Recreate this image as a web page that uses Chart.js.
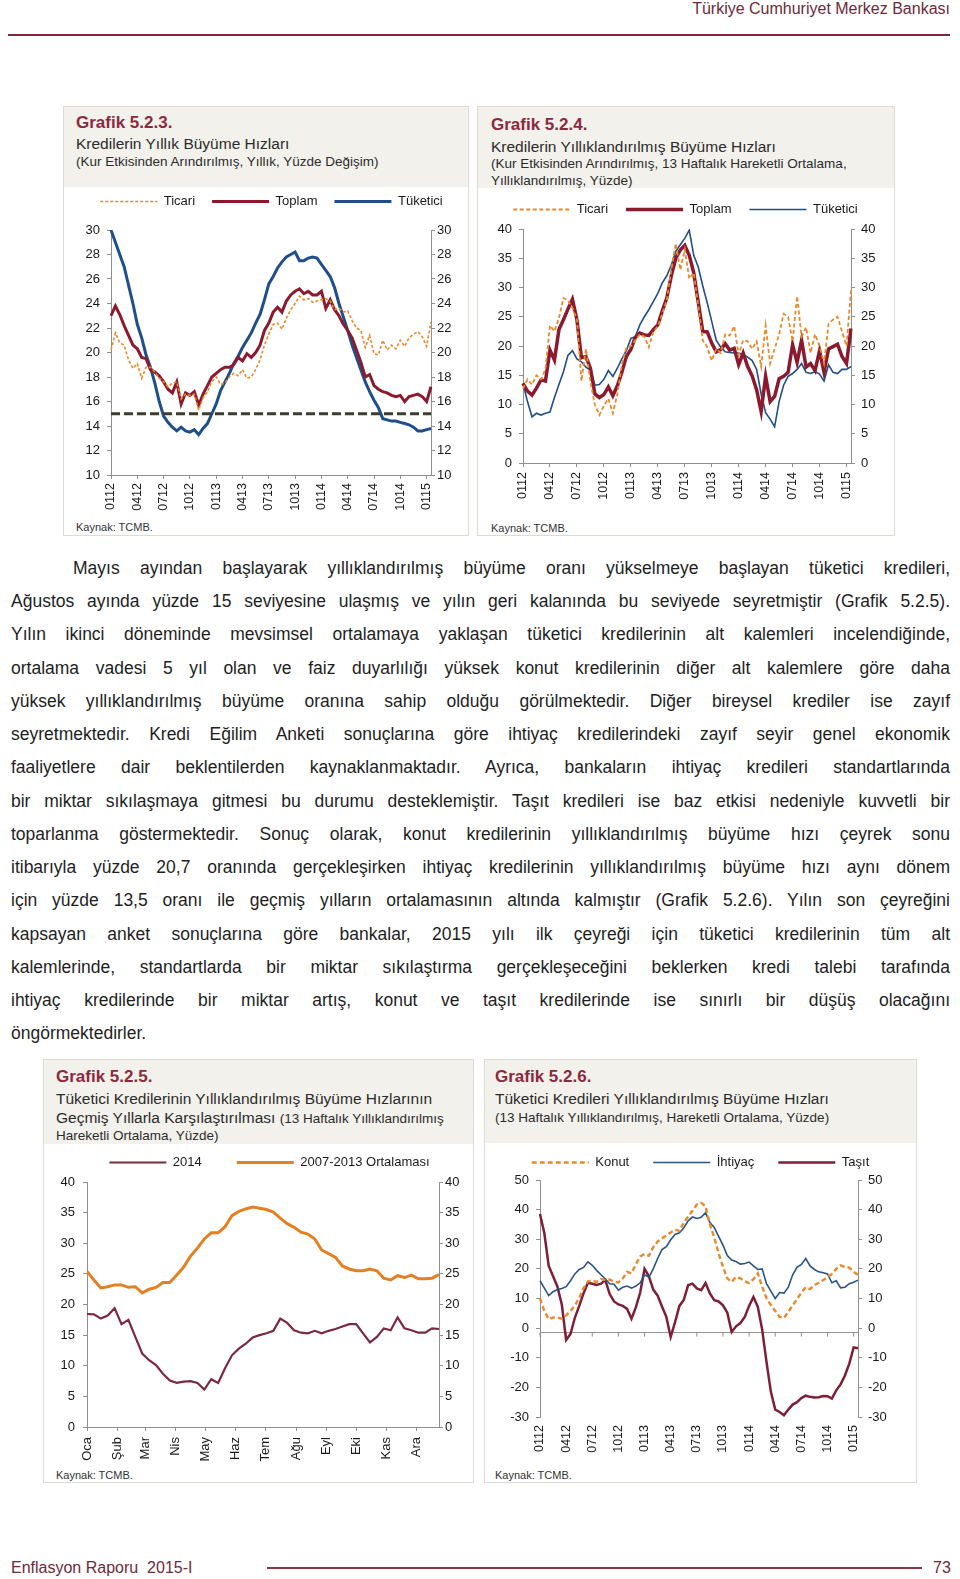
<!DOCTYPE html>
<html lang="tr">
<head>
<meta charset="utf-8">
<title>Enflasyon Raporu 2015-I</title>
<script src="https://cdn.jsdelivr.net/npm/chart.js@4.4.1/dist/chart.umd.min.js"></script>
<style>
  html, body { margin: 0; padding: 0; background: #fff; }
  body { position: relative; width: 960px; height: 1579px; overflow: hidden;
         font-family: "Liberation Sans", Arial, sans-serif; color: #1e1e1e; }
  .abs { position: absolute; white-space: nowrap; }
  .panel { position: absolute; box-sizing: border-box; border: 1px solid #dedbd5; }
  .phead { position: absolute; left: 0; top: 0; right: 0; background: #f3f1ec; }
  .gt { font-size: 17px; line-height: 17px; font-weight: bold; color: #8b2a3e; }
  .tt { font-size: 15.5px; line-height: 16px; color: #2b2b2b; }
  .st { font-size: 13.5px; line-height: 14px; color: #2b2b2b; }
  .src { font-size: 11px; line-height: 11px; color: #333; }
  .maroon { color: #6e2a3a; font-size: 16px; line-height: 18px; }
  canvas { position: absolute; }
  #txt { position: absolute; left: 11px; top: 552px; width: 939px; font-size: 17.5px; line-height: 33.24px; color: #1e1e1e; }
  #txt div { text-align: justify; text-align-last: justify; height: 33.24px; }
  #txt div.first { text-indent: 62px; }
  #txt div.last { text-align-last: left; }
</style>
</head>
<body>
<div class="abs maroon" style="right:10px;top:0;">Türkiye Cumhuriyet Merkez Bankası</div>
<div class="abs" style="left:8px;top:34px;width:942px;height:2px;background:#7a2a3c;"></div>

<!-- Grafik 5.2.3 -->
<div class="panel" style="left:63px;top:106px;width:406px;height:430px;"><div class="phead" style="height:80px;"></div></div>
<div class="abs gt" style="left:76px;top:114px;">Grafik 5.2.3.</div>
<div class="abs tt" style="left:76px;top:136px;">Kredilerin Yıllık Büyüme Hızları</div>
<div class="abs st" style="left:76px;top:155px;">(Kur Etkisinden Arındırılmış, Yıllık, Yüzde Değişim)</div>
<div class="abs src" style="left:76px;top:522px;">Kaynak: TCMB.</div>

<!-- Grafik 5.2.4 -->
<div class="panel" style="left:477px;top:106px;width:418px;height:430px;"><div class="phead" style="height:81px;"></div></div>
<div class="abs gt" style="left:491px;top:116px;">Grafik 5.2.4.</div>
<div class="abs tt" style="left:491px;top:139px;">Kredilerin Yıllıklandırılmış Büyüme Hızları</div>
<div class="abs st" style="left:491px;top:157px;">(Kur Etkisinden Arındırılmış, 13 Haftalık Hareketli Ortalama,</div>
<div class="abs st" style="left:491px;top:174px;">Yıllıklandırılmış, Yüzde)</div>
<div class="abs src" style="left:491px;top:523px;">Kaynak: TCMB.</div>

<canvas id="c1" width="405" height="337" style="left:63px;top:178px;"></canvas>
<canvas id="c2" width="419" height="318" style="left:476px;top:185px;"></canvas>

<div id="txt">
  <div class="first">Mayıs ayından başlayarak yıllıklandırılmış büyüme oranı yükselmeye başlayan tüketici kredileri,</div>
  <div>Ağustos ayında yüzde 15 seviyesine ulaşmış ve yılın geri kalanında bu seviyede seyretmiştir (Grafik 5.2.5).</div>
  <div>Yılın ikinci döneminde mevsimsel ortalamaya yaklaşan tüketici kredilerinin alt kalemleri incelendiğinde,</div>
  <div>ortalama vadesi 5 yıl olan ve faiz duyarlılığı yüksek konut kredilerinin diğer alt kalemlere göre daha</div>
  <div>yüksek yıllıklandırılmış büyüme oranına sahip olduğu görülmektedir. Diğer bireysel krediler ise zayıf</div>
  <div>seyretmektedir. Kredi Eğilim Anketi sonuçlarına göre ihtiyaç kredilerindeki zayıf seyir genel ekonomik</div>
  <div>faaliyetlere dair beklentilerden kaynaklanmaktadır. Ayrıca, bankaların ihtiyaç kredileri standartlarında</div>
  <div>bir miktar sıkılaşmaya gitmesi bu durumu desteklemiştir. Taşıt kredileri ise baz etkisi nedeniyle kuvvetli bir</div>
  <div>toparlanma göstermektedir. Sonuç olarak, konut kredilerinin yıllıklandırılmış büyüme hızı çeyrek sonu</div>
  <div>itibarıyla yüzde 20,7 oranında gerçekleşirken ihtiyaç kredilerinin yıllıklandırılmış büyüme hızı aynı dönem</div>
  <div>için yüzde 13,5 oranı ile geçmiş yılların ortalamasının altında kalmıştır (Grafik 5.2.6). Yılın son çeyreğini</div>
  <div>kapsayan anket sonuçlarına göre bankalar, 2015 yılı ilk çeyreği için tüketici kredilerinin tüm alt</div>
  <div>kalemlerinde, standartlarda bir miktar sıkılaştırma gerçekleşeceğini beklerken kredi talebi tarafında</div>
  <div>ihtiyaç kredilerinde bir miktar artış, konut ve taşıt kredilerinde ise sınırlı bir düşüş olacağını</div>
  <div class="last">öngörmektedirler.</div>
</div>

<!-- Grafik 5.2.5 -->
<div class="panel" style="left:43px;top:1059px;width:431px;height:424px;"><div class="phead" style="height:84px;"></div></div>
<div class="abs gt" style="left:56px;top:1068px;">Grafik 5.2.5.</div>
<div class="abs tt" style="left:56px;top:1091px;">Tüketici Kredilerinin Yıllıklandırılmış Büyüme Hızlarının</div>
<div class="abs tt" style="left:56px;top:1110px;">Geçmiş Yıllarla Karşılaştırılması <span class="st">(13 Haftalık Yıllıklandırılmış</span></div>
<div class="abs st" style="left:56px;top:1129px;">Hareketli Ortalama, Yüzde)</div>
<div class="abs src" style="left:56px;top:1470px;">Kaynak: TCMB.</div>

<!-- Grafik 5.2.6 -->
<div class="panel" style="left:484px;top:1059px;width:433px;height:424px;"><div class="phead" style="height:83px;"></div></div>
<div class="abs gt" style="left:495px;top:1068px;">Grafik 5.2.6.</div>
<div class="abs tt" style="left:495px;top:1091px;">Tüketici Kredileri Yıllıklandırılmış Büyüme Hızları</div>
<div class="abs st" style="left:495px;top:1111px;">(13 Haftalık Yıllıklandırılmış, Hareketli Ortalama, Yüzde)</div>
<div class="abs src" style="left:495px;top:1470px;">Kaynak: TCMB.</div>

<canvas id="c3" width="453" height="344" style="left:43px;top:1121px;"></canvas>
<canvas id="c4" width="433" height="325" style="left:484px;top:1132px;"></canvas>

<div class="abs maroon" style="left:11px;top:1559px;">Enflasyon Raporu&nbsp; 2015-I</div>
<div class="abs" style="left:267px;top:1567px;width:655px;height:2px;background:#8a3446;"></div>
<div class="abs maroon" style="left:933px;top:1559px;">73</div>

<script>
// veriler: yarım aylık gözlemler, 01/2012 - 01/2015
const months = ['0112','0212','0312','0412','0512','0612','0712','0812','0912','1012','1112','1212',
                '0113','0213','0313','0413','0513','0613','0713','0813','0913','1013','1113','1213',
                '0114','0214','0314','0414','0514','0614','0714','0814','0914','1014','1114','1214','0115'];
const tickMonths = ['0112','0412','0712','1012','0113','0413','0713','1013','0114','0414','0714','1014','0115'];

// Grafik 5.2.3
const ticari1 = [20.2, 21.6, 20.8, 20.6, 19.4, 18.7, 19.1, 17.9, 18.8, 18.8,
                 18.4, 17.9, 17.6, 17.2, 17.5, 17.6, 16.2, 16.6, 16.5, 16.6,
                 15.3, 16.3, 16.8, 17.6, 18.0, 17.4, 17.5, 18.0, 18.3, 18.1,
                 18.6, 17.9, 18.0, 18.6, 19.4, 20.6, 21.5, 22.3, 22.4, 21.9,
                 22.8, 23.5, 24.0, 24.6, 24.3, 24.4, 24.1, 24.2, 24.3, 24.4,
                 24.2, 23.5, 23.6, 23.3, 23.4, 22.6, 22.0, 21.8, 20.4, 21.4,
                 19.9, 19.8, 21.0, 20.2, 20.6, 20.3, 21.0, 20.5, 21.2, 21.5,
                 21.7, 21.3, 20.5, 22.5];
const toplam1 = [23.0, 23.8, 23.1, 22.2, 21.4, 20.6, 20.3, 19.6, 19.5, 18.6,
                 18.4, 18.1, 17.6, 17.0, 16.7, 17.6, 15.8, 16.7, 16.5, 16.8,
                 15.7, 16.6, 17.3, 18.0, 18.3, 18.6, 18.8, 18.8, 19.0, 19.6,
                 19.3, 19.9, 19.6, 20.0, 20.6, 21.8, 22.4, 23.3, 23.7, 23.3,
                 24.2, 24.7, 25.0, 25.2, 24.8, 25.0, 24.7, 24.7, 25.0, 23.6,
                 24.3, 23.5, 23.0, 22.3, 21.8, 21.2, 20.2, 19.2, 18.0, 18.2,
                 17.3, 17.0, 16.8, 16.7, 16.5, 16.4, 16.5, 16.0, 16.4, 16.5,
                 16.6, 16.4, 16.0, 17.2];
const tuketici1 = [30.0, 29.0, 28.0, 27.0, 25.5, 24.0, 22.3, 21.2, 19.8, 18.8,
                   17.5, 16.0, 14.8, 14.3, 13.9, 13.6, 13.9, 13.6, 13.5, 13.7,
                   13.3, 13.8, 14.2, 15.0, 15.8, 16.9, 17.6, 18.3, 19.1, 19.7,
                   20.4, 21.0, 21.6, 22.4, 23.1, 24.3, 25.6, 26.2, 26.9, 27.4,
                   27.8, 28.0, 28.2, 27.5, 27.5, 27.7, 27.8, 27.7, 27.2, 26.7,
                   26.2, 25.3, 24.0, 22.9, 21.8, 20.6, 19.6, 18.6, 17.6, 16.8,
                   16.1, 15.5, 14.6, 14.5, 14.4, 14.4, 14.3, 14.2, 14.1, 13.9,
                   13.6, 13.6, 13.7, 13.8];
const threshold = 15;

// Grafik 5.2.4
const ticari2 = [12.7, 14.3, 13.4, 15.0, 14.3, 16.0, 23.5, 22.5, 24.8, 28.2,
                 27.8, 26.5, 24.6, 14.0, 19.5, 13.8, 10.0, 8.2, 9.8, 11.0,
                 8.5, 11.8, 16.8, 19.7, 20.0, 21.0, 22.0, 21.6, 19.8, 22.4,
                 23.4, 25.5, 27.8, 33.0, 37.5, 33.0, 36.5, 31.5, 32.5, 27.0,
                 21.0, 19.8, 17.5, 19.5, 18.8, 22.0, 21.8, 23.4, 18.5, 21.0,
                 20.8, 19.5, 20.8, 16.5, 23.5, 17.0, 19.5, 22.0, 25.5, 25.0,
                 20.8, 28.5, 21.6, 23.2, 18.8, 22.0, 20.0, 17.0, 23.8, 24.5,
                 25.0, 22.5, 20.0, 29.5];
const toplam2 = [13.6, 12.3, 11.6, 12.8, 14.2, 14.0, 19.3, 17.6, 22.8, 24.5,
                 26.3, 28.0, 24.5, 18.0, 18.2, 16.2, 11.8, 11.2, 11.7, 13.0,
                 11.5, 13.2, 15.5, 18.2, 19.4, 21.5, 22.2, 21.9, 21.8, 22.8,
                 23.6, 26.0, 28.2, 32.0, 35.0, 36.4, 37.2, 35.5, 32.5, 27.5,
                 22.5, 22.4, 20.5, 19.0, 19.4, 20.4, 19.3, 19.6, 16.8, 18.8,
                 16.5, 14.9, 12.5, 8.8, 14.8, 10.5, 11.4, 14.4, 14.8, 15.5,
                 20.2, 17.2, 21.0, 16.4, 17.0, 15.8, 19.2, 15.5, 19.5, 19.9,
                 20.3, 18.2, 17.0, 23.0];
const tuketici2 = [13.6, 10.5, 7.9, 8.5, 8.2, 8.5, 8.7, 11.2, 13.4, 15.6,
                   18.4, 19.2, 17.8, 17.3, 16.4, 15.9, 13.3, 13.4, 14.3, 15.8,
                   14.8, 16.2, 17.8, 19.2, 21.3, 21.6, 23.6, 25.0, 26.2, 27.6,
                   29.0, 30.8, 32.0, 33.8, 36.2, 37.3, 38.4, 39.8, 35.5, 33.5,
                   30.3, 27.4, 24.2, 21.0, 19.8, 19.0, 18.9, 18.8, 18.8, 18.5,
                   18.1, 17.5, 16.0, 11.8, 8.6, 7.5, 6.2, 10.5, 13.3, 14.8,
                   15.3, 16.0, 17.0, 15.5, 15.3, 15.6, 15.2, 14.0, 16.8, 15.5,
                   15.3, 16.0, 16.0, 16.5];

// Grafik 5.2.5: haftalık, 2014
const monthNames = ['Oca','Şub','Mar','Nis','May','Haz','Tem','Ağu','Eyl','Eki','Kas','Ara'];
const monthStartDays = [0, 31, 59, 90, 120, 151, 181, 212, 243, 273, 304, 334];
const y2014 = [18.45, 18.4, 17.7, 18.2, 19.4, 16.8, 17.5, 14.7, 12.0, 10.9,
               10.1, 8.7, 7.6, 7.2, 7.4, 7.5, 7.2, 6.1, 7.8, 7.2,
               9.6, 11.7, 12.8, 13.6, 14.6, 15.0, 15.3, 15.7, 17.7, 17.0,
               15.8, 15.4, 15.3, 15.7, 15.3, 15.7, 16.0, 16.4, 16.8, 16.8,
               15.3, 13.8, 14.7, 16.1, 15.8, 17.9, 16.1, 15.8, 15.4, 15.4,
               16.1, 16.0];
const avg0713 = [25.4, 24.0, 22.7, 22.9, 23.2, 23.2, 22.8, 22.9, 21.9, 22.5,
                 22.8, 23.6, 23.6, 24.8, 26.1, 27.9, 29.2, 30.7, 31.7, 31.7,
                 32.7, 34.5, 35.2, 35.6, 35.9, 35.7, 35.5, 35.1, 34.1, 33.2,
                 32.6, 31.8, 31.5, 30.7, 28.9, 28.3, 27.7, 26.3, 25.8, 25.5,
                 25.5, 25.8, 25.5, 24.3, 24.0, 24.7, 24.4, 24.8, 24.2, 24.2,
                 24.3, 24.9];

// Grafik 5.2.6
const konut = [10.0, 5.8, 3.0, 3.6, 3.6, 3.2, 4.3, 5.8, 7.6, 10.2,
               13.5, 15.8, 16.0, 15.6, 16.6, 16.2, 16.4, 15.6, 15.4, 16.8,
               19.0, 18.5, 21.5, 24.2, 25.0, 24.4, 27.3, 29.2, 30.3, 31.2,
               32.3, 33.2, 32.8, 35.6, 37.6, 39.6, 41.7, 42.3, 41.2, 35.0,
               30.6, 25.3, 20.7, 16.8, 15.6, 17.3, 16.8, 15.8, 15.2, 16.5,
               18.5, 14.0, 10.0, 7.8, 5.8, 3.8, 3.4, 5.5, 7.7, 9.8,
               12.0, 13.8, 13.2, 14.5, 15.3, 16.2, 17.2, 18.3, 20.0, 21.2,
               20.6, 20.4, 19.0, 18.0];
const ihtiyac = [16.0, 13.5, 11.0, 12.3, 13.0, 13.4, 14.0, 16.0, 18.3, 19.8,
                 20.5, 22.4, 21.2, 19.5, 18.0, 16.6, 15.0, 14.8, 12.8, 13.8,
                 14.2, 13.5, 14.2, 15.3, 18.0, 17.2, 20.0, 23.5, 26.5, 27.5,
                 29.8, 31.6, 32.2, 33.8, 36.2, 37.5, 37.0, 37.4, 39.0, 35.6,
                 34.0, 31.0, 28.0, 24.5, 23.0, 22.5, 21.6, 21.8, 22.3, 21.0,
                 19.8, 20.0, 15.0, 12.5, 10.0, 12.0, 11.8, 13.8, 18.0, 20.5,
                 21.5, 23.5, 21.0, 19.8, 19.0, 18.7, 18.3, 15.3, 16.0, 13.6,
                 13.8, 15.0, 15.5, 16.2];
const tasit = [38.5, 32.0, 21.0, 17.5, 14.0, 8.0, -4.0, -2.0, 3.5, 7.5,
               11.8, 15.3, 15.0, 14.6, 15.0, 16.2, 11.5, 9.0, 8.0, 7.5,
               6.5, 3.2, 7.0, 12.0, 20.0, 17.5, 13.0, 11.0, 7.3, 3.8,
               -3.0, 2.0, 7.5, 9.5, 14.5, 15.0, 13.4, 12.8, 15.2, 11.7,
               9.4, 9.0, 7.7, 5.2, -1.3, 0.6, 1.7, 3.8, 7.5, 10.5,
               7.2, -0.5, -11.5, -21.5, -27.5, -28.3, -29.4, -27.5, -25.8, -25.0,
               -23.6, -22.8, -23.2, -23.4, -23.3, -22.9, -23.0, -23.8, -21.0, -19.0,
               -16.0, -12.0, -6.5, -6.8];

// renkler
const AXIS = '#8f8f8f';
const INK = '#1a1a1a';
const ORANGE = '#e8892c';
const RED = '#8b1a2e';
const BLUE = '#1f4f8b';
const MAROON = '#7a2a40';

Chart.defaults.font.family = '"Liberation Sans", Arial, sans-serif';
Chart.defaults.color = INK;
Chart.defaults.animation = false;
Chart.defaults.elements.point.radius = 0;
Chart.defaults.elements.line.tension = 0;
Chart.defaults.plugins.tooltip.enabled = false;

// her gözlem için ay etiketi (yarım ay => iki gözlem)
const periods = months.flatMap(m => [m, m]).slice(0, 74);
const showTick = i => i % 2 === 0 && tickMonths.includes(periods[i]);

// lejant ile grafik arasına boşluk
function gap(extra) {
  return {
    id: 'legendGap',
    beforeInit(chart) {
      const fit = chart.legend.fit;
      chart.legend.fit = function () { fit.call(this); this.height += extra; };
    }
  };
}

function legend(pad) {
  return {
    position: 'top',
    labels: {
      usePointStyle: true, pointStyle: 'line', pointStyleWidth: 57, padding: pad,
      color: INK, font: { size: 13 },
      // kesikli çizgiyi lejantta da göster
      generateLabels(chart) {
        return Chart.defaults.plugins.legend.labels.generateLabels(chart).map(item => {
          const ds = chart.data.datasets[item.datasetIndex];
          return Object.assign(item, { lineDash: ds.borderDash, lineWidth: ds.borderWidth, strokeStyle: ds.borderColor });
        });
      }
    }
  };
}

function yScale(pos, min, max, step, width, pad) {
  return {
    position: pos, min: min, max: max,
    ticks: { stepSize: step, padding: pad, color: INK, font: { size: 13 } },
    grid: { drawOnChartArea: false, drawTicks: true, tickLength: 4, color: AXIS },
    border: { display: true, color: AXIS },
    afterFit: function (s) { s.width = width; }
  };
}

function xPeriods(height, pad, showAxis) {
  return {
    type: 'category', offset: false,
    ticks: { autoSkip: false, minRotation: 90, maxRotation: 90, padding: pad, color: INK, font: { size: 12.5 },
             callback: function (v, i) { return showTick(i) ? periods[i] : null; } },
    grid: showAxis ? { drawOnChartArea: false, tickLength: 4, color: AXIS } : { display: false, drawTicks: false },
    border: { display: showAxis, color: AXIS },
    afterFit: function (s) { s.height = height; }
  };
}

function line(label, data, color, width, dash) {
  return { label: label, data: data, borderColor: color, backgroundColor: color,
           borderWidth: width, borderDash: dash || [], fill: false };
}

// yüzde 15 referans çizgisi
const limitLine = {
  id: 'limitLine',
  afterDatasetsDraw(chart) {
    const { ctx, chartArea, scales } = chart;
    const y = scales.y.getPixelForValue(threshold);
    ctx.save();
    ctx.strokeStyle = '#3d3c2e';
    ctx.lineWidth = 3;
    ctx.setLineDash([9, 4]);
    ctx.beginPath();
    ctx.moveTo(chartArea.left, y);
    ctx.lineTo(chartArea.right, y);
    ctx.stroke();
    ctx.restore();
  }
};

// 5.2.6: yatay eksen sıfırın biraz altından geçiyor
const zeroAxis = {
  id: 'zeroAxis',
  beforeDatasetsDraw(chart) {
    const { ctx, chartArea, scales } = chart;
    const y = scales.y.getPixelForValue(-1.5);
    ctx.save();
    ctx.strokeStyle = AXIS;
    ctx.lineWidth = 1;
    ctx.beginPath();
    ctx.moveTo(chartArea.left, y);
    ctx.lineTo(chartArea.right, y);
    periods.forEach((p, i) => {
      if (showTick(i)) {
        const x = scales.x.getPixelForValue(i);
        ctx.moveTo(x, y);
        ctx.lineTo(x, y + 4);
      }
    });
    ctx.stroke();
    ctx.restore();
  }
};

// Grafik 5.2.3
new Chart(document.getElementById('c1'), {
  type: 'line',
  data: {
    labels: periods,
    datasets: [
      line('Ticari', ticari1, ORANGE, 1.6, [3, 2]),
      line('Toplam', toplam1, RED, 3),
      line('Tüketici', tuketici1, BLUE, 3)
    ]
  },
  options: {
    responsive: false,
    layout: { padding: { left: 12 } },
    plugins: { legend: legend(17) },
    scales: {
      x: xPeriods(40, 4, true),
      y: yScale('left', 10, 30, 2, 36, 7),
      y2: yScale('right', 10, 30, 2, 37, 2)
    }
  },
  plugins: [gap(12), limitLine]
});

// Grafik 5.2.4
new Chart(document.getElementById('c2'), {
  type: 'line',
  data: {
    labels: periods,
    datasets: [
      line('Ticari', ticari2, ORANGE, 1.8, [4, 2.5]),
      line('Toplam', toplam2, RED, 3.5),
      line('Tüketici', tuketici2, BLUE, 1.6)
    ]
  },
  options: {
    responsive: false,
    plugins: { legend: legend(18) },
    scales: {
      x: xPeriods(40, 5, true),
      y: yScale('left', 0, 40, 5, 47, 7),
      y2: yScale('right', 0, 40, 5, 44, 6)
    }
  },
  plugins: [gap(3)]
});

// Grafik 5.2.5
const weekly = arr => arr.map((v, i) => ({ x: i * 7, y: v }));
new Chart(document.getElementById('c3'), {
  type: 'line',
  data: {
    datasets: [
      line('2014', weekly(y2014), MAROON, 2.2),
      line('2007-2013 Ortalaması', weekly(avg0713), '#e38022', 3)
    ]
  },
  options: {
    responsive: false,
    plugins: { legend: legend(35) },
    scales: {
      x: {
        type: 'linear', min: 0, max: 357,
        afterBuildTicks: function (s) { s.ticks = monthStartDays.map(v => ({ value: v })); },
        ticks: { autoSkip: false, minRotation: 90, maxRotation: 90, padding: 6, color: INK, font: { size: 13 },
                 callback: function (v) { return monthNames[monthStartDays.indexOf(v)]; } },
        grid: { drawOnChartArea: false, tickLength: 4, color: AXIS },
        border: { color: AXIS },
        afterFit: function (s) { s.height = 38; }
      },
      y: yScale('left', 0, 40, 5, 44, 8),
      y2: yScale('right', 0, 40, 5, 57, 2)
    }
  },
  plugins: [gap(3)]
});

// Grafik 5.2.6
new Chart(document.getElementById('c4'), {
  type: 'line',
  data: {
    labels: periods,
    datasets: [
      line('Konut', konut, ORANGE, 2.4, [5, 3]),
      line('İhtiyaç', ihtiyac, '#2a5486', 1.6),
      line('Taşıt', tasit, '#7d1f38', 2.5)
    ]
  },
  options: {
    responsive: false,
    plugins: { legend: legend(24) },
    scales: {
      x: xPeriods(40, 8, false),
      y: yScale('left', -30, 50, 10, 56, 7),
      y2: yScale('right', -30, 50, 10, 59, 6)
    }
  },
  plugins: [gap(1), zeroAxis]
});
</script>
</body>
</html>
